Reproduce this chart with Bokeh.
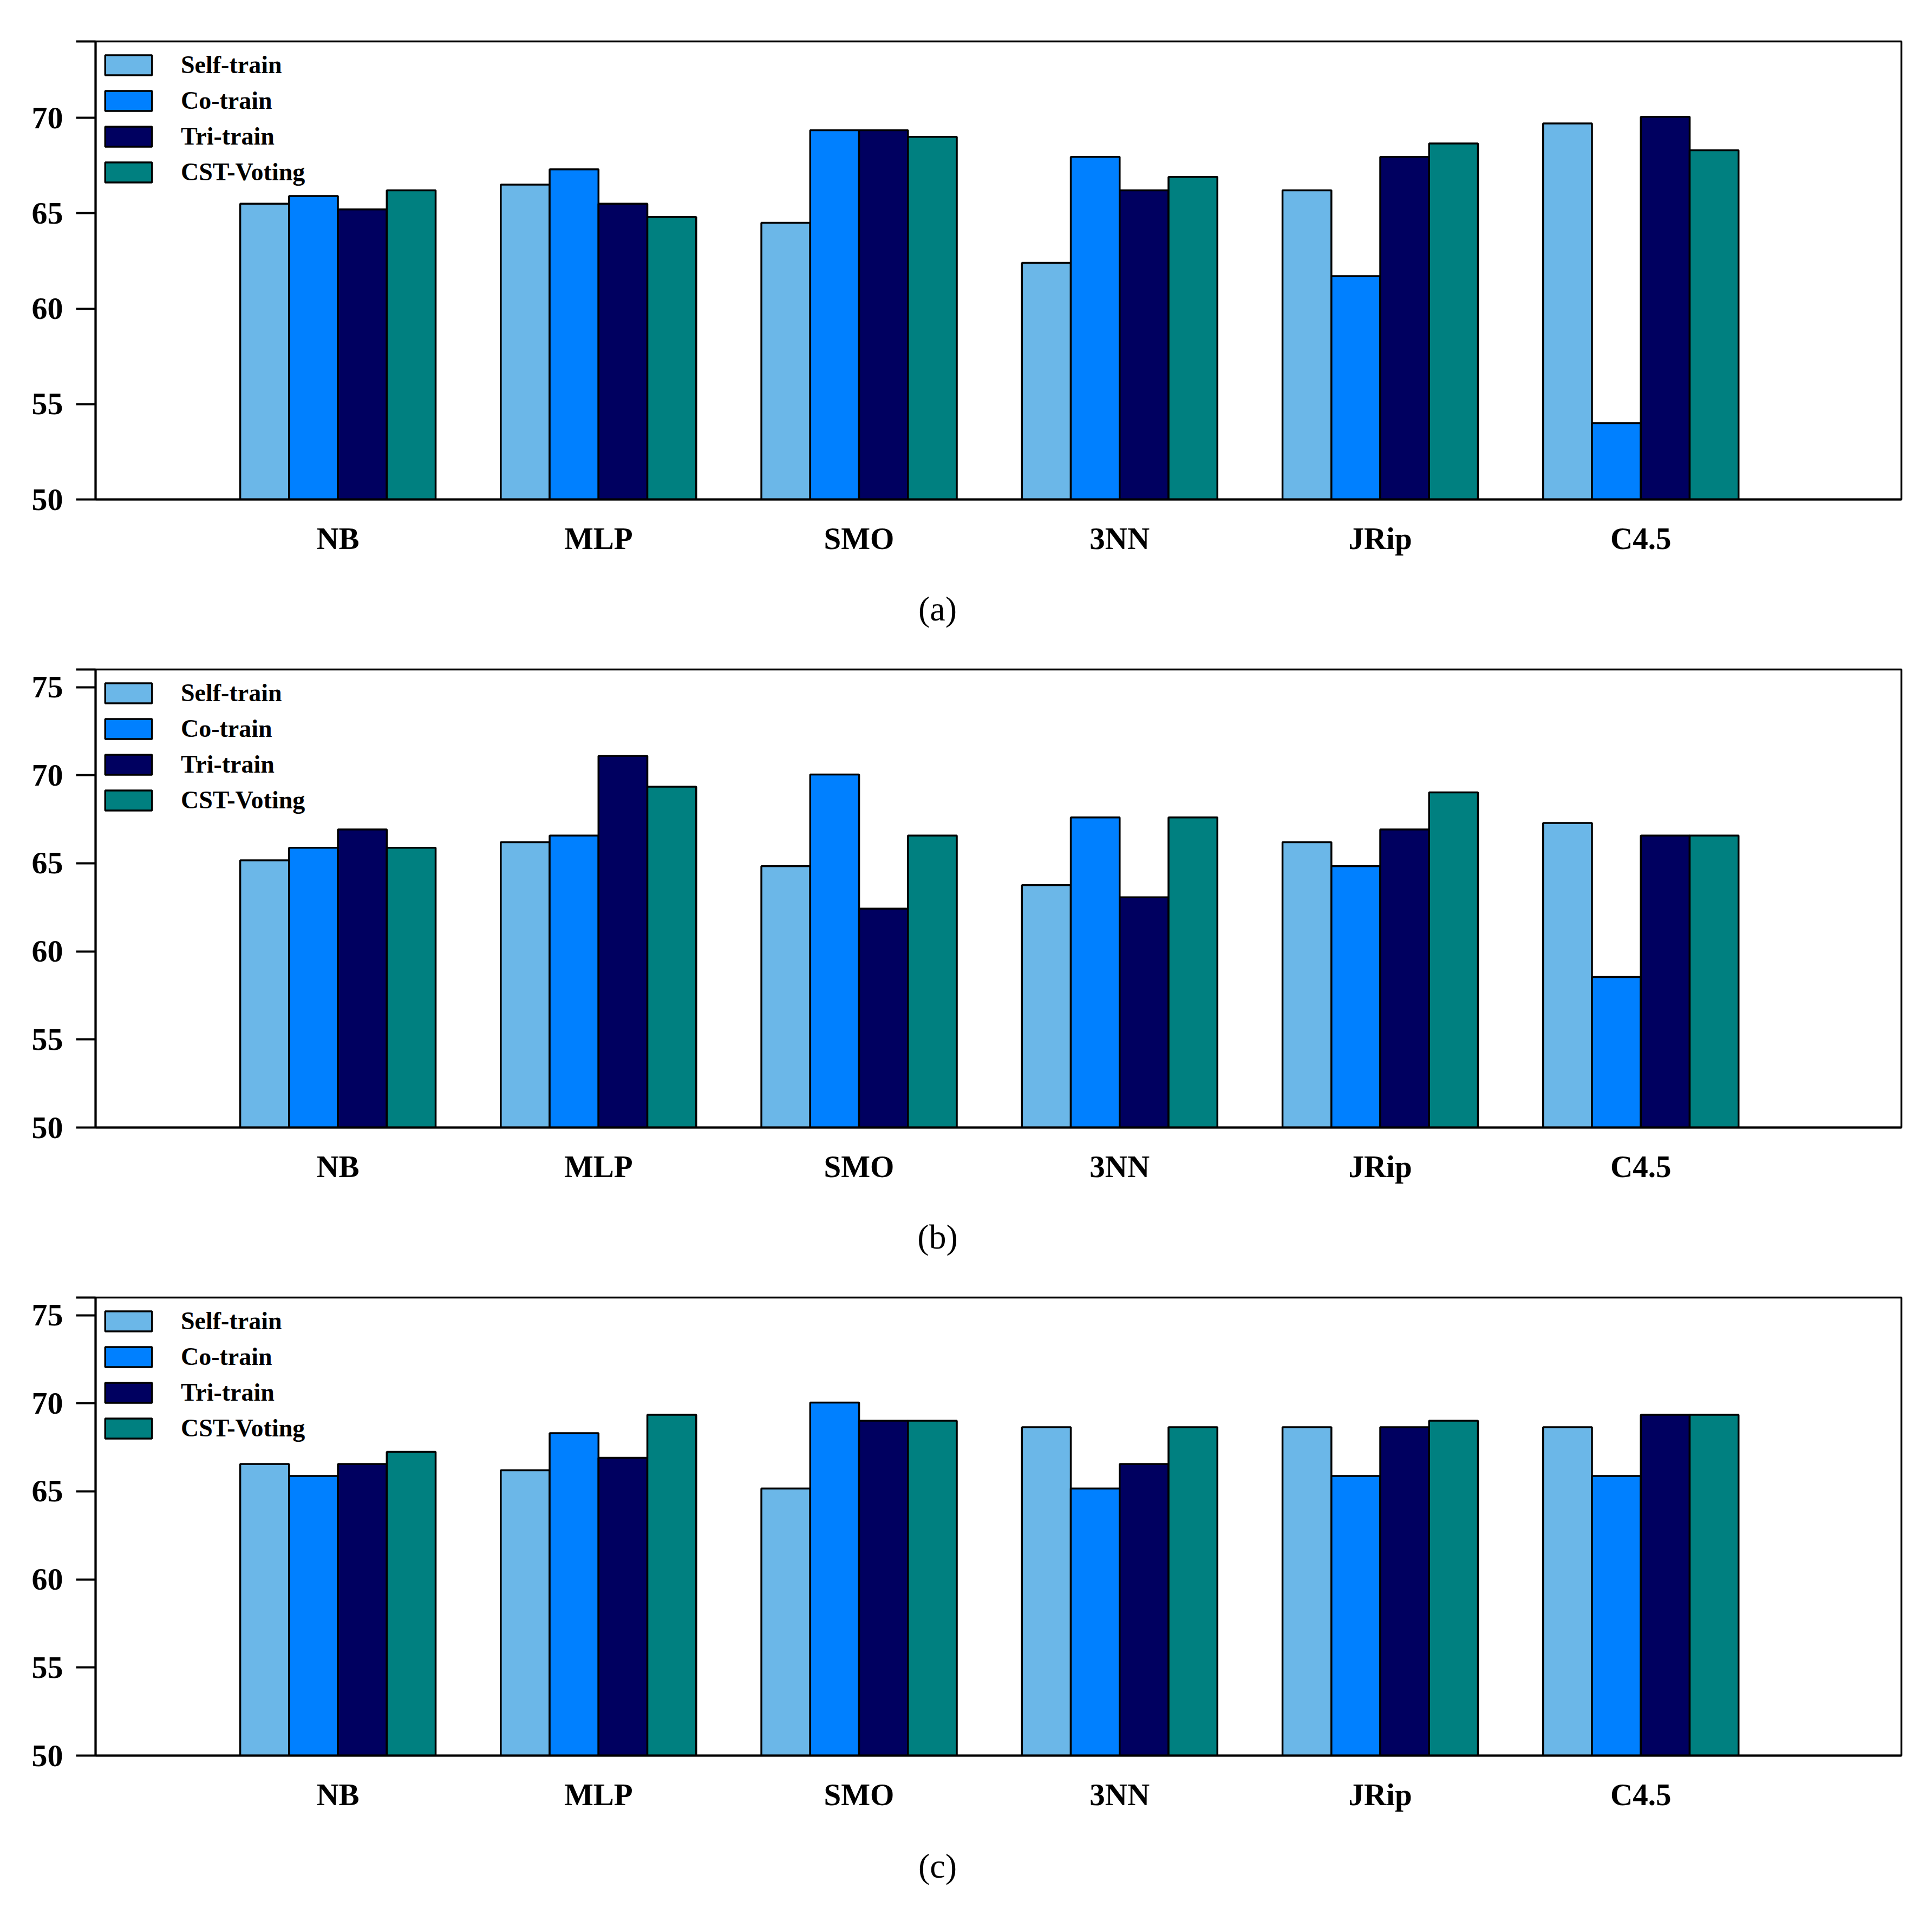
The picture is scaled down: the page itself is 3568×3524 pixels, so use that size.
from bokeh.plotting import figure
from bokeh.layouts import column
from bokeh.models import FixedTicker, Legend, LegendItem, Range1d
from bokeh.core.properties import value
from bokeh.embed import file_html
from bokeh.resources import INLINE

categories = ["NB", "MLP", "SMO", "3NN", "JRip", "C4.5"]
series = ["Self-train", "Co-train", "Tri-train", "CST-Voting"]
colors = ["#6BB7E8", "#0080FF", "#000060", "#008080"]
captions = ["(a)", "(b)", "(c)"]

# panel (a)
a_self = [65.5, 66.5, 64.5, 62.4, 66.2, 69.7]
a_co = [65.9, 67.3, 69.35, 67.95, 61.7, 54.0]
a_tri = [65.2, 65.5, 69.35, 66.2, 67.95, 70.05]
a_cst = [66.2, 64.8, 69.0, 66.9, 68.65, 68.3]

# panel (b)
b_self = [65.17, 66.2, 64.84, 63.76, 66.2, 67.29]
b_co = [65.88, 66.57, 70.04, 67.6, 64.84, 58.54]
b_tri = [66.92, 71.1, 62.42, 63.07, 66.92, 66.57]
b_cst = [65.88, 69.35, 66.57, 67.6, 69.02, 66.57]

# panel (c)
c_self = [66.55, 66.2, 65.16, 68.64, 68.64, 68.64]
c_co = [65.87, 68.3, 70.04, 65.16, 65.87, 65.87]
c_tri = [66.55, 66.9, 69.01, 66.55, 68.64, 69.35]
c_cst = [67.24, 69.35, 69.01, 68.64, 69.01, 69.35]

y_ticks_a = [50, 55, 60, 65, 70]
y_ticks_bc = [50, 55, 60, 65, 70, 75]

FONT = "Liberation Serif"
FRAME_W, FRAME_H = 3335, 846
PAGE_W = 3552
LEFT = 176
RIGHT = PAGE_W - LEFT - FRAME_W
X0, X1 = 0.07, 7.0


def make_panel(vals, ymin, ymax, yticks, top_border):
    p = figure(frame_width=FRAME_W, frame_height=FRAME_H,
               min_border_left=LEFT, min_border_right=RIGHT,
               min_border_top=top_border, min_border_bottom=150,
               x_range=Range1d(X0, X1), y_range=Range1d(ymin, ymax),
               output_backend="svg", toolbar_location=None)
    p.xgrid.visible = False
    p.ygrid.visible = False
    p.outline_line_color = "black"
    p.outline_line_width = 3.5
    p.background_fill_color = "white"
    p.border_fill_color = "white"

    bar_w = 0.75 / len(series)
    renderers = []
    for j, s in enumerate(series):
        off = (j - (len(series) - 1) / 2) * bar_w
        xs = [i + 1 + off for i in range(len(categories))]
        r = p.vbar(x=xs, top=vals[j], bottom=ymin, width=bar_w,
                   fill_color=colors[j], line_color="black", line_width=3.5)
        renderers.append(r)

    xa = p.xaxis[0]
    xa.ticker = FixedTicker(ticks=[i + 1 for i in range(len(categories))])
    xa.major_label_overrides = {i + 1: c for i, c in enumerate(categories)}
    xa.major_tick_line_color = None
    xa.major_tick_out = 0
    xa.major_tick_in = 0
    xa.minor_tick_line_color = None
    xa.axis_line_width = 4
    xa.major_label_text_font = FONT
    xa.major_label_text_font_style = "bold"
    xa.major_label_text_font_size = "57px"
    xa.major_label_text_color = "black"
    xa.major_label_standoff = 40

    ya = p.yaxis[0]
    ya.ticker = FixedTicker(ticks=yticks + [ymax])
    ya.major_label_overrides = {ymax: ""}
    ya.major_tick_out = 36
    ya.major_tick_in = 0
    ya.major_tick_line_width = 4
    ya.minor_tick_line_color = None
    ya.axis_line_width = 4
    ya.major_label_text_font = FONT
    ya.major_label_text_font_style = "bold"
    ya.major_label_text_font_size = "58px"
    ya.major_label_text_color = "black"
    ya.major_label_standoff = 24

    items = [LegendItem(label=s, renderers=[r]) for s, r in zip(series, renderers)]
    legend_h = 4 * 53 + 3 * 13
    legend = Legend(items=items, location=(7, FRAME_H - 17 - legend_h),
                    glyph_width=108, glyph_height=46, label_height=46,
                    spacing=13, label_standoff=43, padding=0, margin=0,
                    border_line_color=None, background_fill_alpha=0,
                    label_text_font=FONT, label_text_font_style="bold",
                    label_text_font_size="46px", label_text_color="black")
    p.add_layout(legend)
    return p


def make_caption(text, height, center_from_top):
    c = figure(frame_width=FRAME_W, frame_height=height,
               min_border_left=LEFT, min_border_right=RIGHT,
               min_border_top=0, min_border_bottom=0,
               x_range=Range1d(X0, X1), y_range=Range1d(0, height),
               output_backend="svg", toolbar_location=None)
    c.axis.visible = False
    c.grid.visible = False
    c.outline_line_color = None
    cap_x = X0 + (1731 - LEFT) / FRAME_W * (X1 - X0)
    c.text(x=[cap_x], y=[height - center_from_top], text=[text],
           text_font=value(FONT), text_font_size=value("64px"),
           text_align="center", text_baseline="middle", text_color="black")
    return c


pa = make_panel([a_self, a_co, a_tri, a_cst], 50, 74, y_ticks_a, 76)
pb = make_panel([b_self, b_co, b_tri, b_cst], 50, 76, y_ticks_bc, 30)
pc = make_panel([c_self, c_co, c_tri, c_cst], 50, 76, y_ticks_bc, 30)
ca = make_caption(captions[0], 134, 52)
cb = make_caption(captions[1], 134, 52)
cc = make_caption(captions[2], 100, 54)

layout = column(pa, ca, pb, cb, pc, cc, spacing=0)
open("out.html", "w").write(file_html(layout, INLINE))
